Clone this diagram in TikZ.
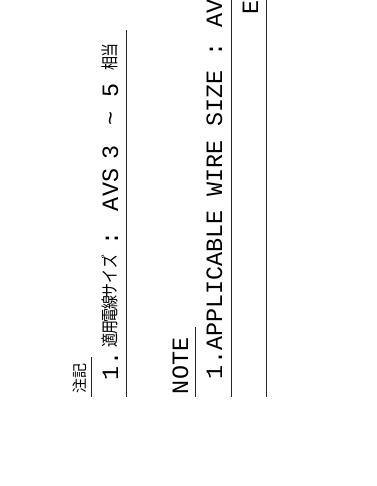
\documentclass[tikz,border=0pt]{standalone}
\usepackage{fontspec}
\setmainfont{Liberation Mono}
\newfontfamily\cjk{Noto Sans CJK JP}
\newcommand{\tallchar}[1]{\scalebox{1}[1.25]{#1}}
\tikzset{
  rule/.style={line width=0.8bp,black!85},
  mono/.style={rotate=90,inner sep=0,outer sep=0,anchor=base west,font=\fontsize{23.4bp}{24bp}\selectfont},
  jp/.style={rotate=90,inner sep=0,outer sep=0,anchor=base west,font=\cjk\fontsize{14bp}{15bp}\selectfont},
}
\begin{document}
\begin{tikzpicture}[x=1bp,y=-1bp]
\useasboundingbox (0,0) rectangle (376,486);
\clip (0,0) rectangle (376,486);
\coordinate (a1) at (126,30); \coordinate (a2) at (126,397);
\coordinate (b1) at (91,357); \coordinate (b2) at (91,397);
\coordinate (c1) at (195,327); \coordinate (c2) at (195,397);
\coordinate (d1) at (231,0); \coordinate (d2) at (231,397);
\coordinate (e1) at (266,0); \coordinate (e2) at (266,397);
\draw[rule] (a1) -- (a2);
\draw[rule] (b1) -- (b2);
\draw[rule] (c1) -- (c2);
\draw[rule] (d1) -- (d2);
\draw[rule] (e1) -- (e2);
\node[jp,font=\cjk\fontsize{15bp}{16bp}\selectfont] (t1) at (85,393) {注記};
\node[mono] (t2) at (118,380) {1.};
\node[jp] (t3a) at (116,347) {\tallchar{適}};
\node[jp] (t3b) at (116,334.5) {\tallchar{用}};
\node[jp] (t3c) at (116,322) {\tallchar{電}};
\node[jp] (t3d) at (116,309.5) {\tallchar{線}};
\node[jp] (t3e) at (116,297) {\tallchar{サ}};
\node[jp] (t3f) at (116,283) {\tallchar{イ}};
\node[jp] (t3g) at (116,268) {\tallchar{ズ}};
\node[mono] (t4) at (118,245) {:};
\node[mono] (t5) at (118,211) {AVS};
\node[mono] (t5b) at (118,160) {3};
\node[mono] (t5c) at (118,126) {\char`\~};
\node[mono] (t5d) at (118,98) {5};
\node[jp] (t6) at (116,71) {\tallchar{相}\kern-0.5bp\tallchar{当}};
\node[mono] (t7) at (188,394) {NOTE};
\node[mono] (t8) at (222,379) {1.APPLICABLE WIRE SIZE : AV};
\node[mono] (t9) at (258,15) {E};
\end{tikzpicture}
\end{document}
